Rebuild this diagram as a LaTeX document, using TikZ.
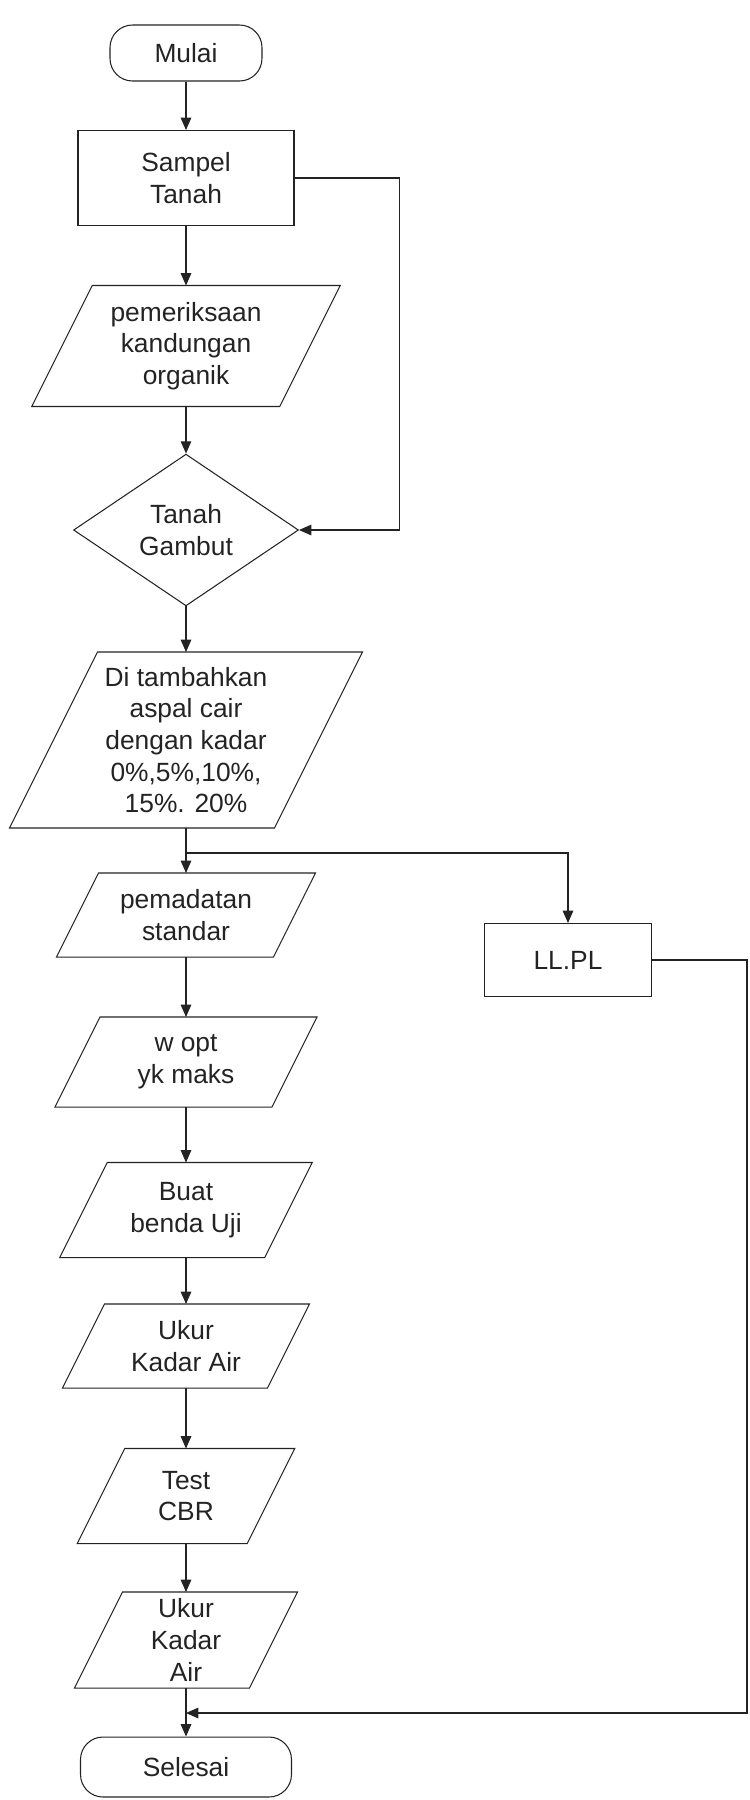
\documentclass[tikz,border=0pt]{standalone}
\usepackage{fontspec}
\setmainfont{Liberation Sans}
\usetikzlibrary{shapes.geometric,arrows.meta,calc}
\definecolor{tinta}{RGB}{35,35,35}

\begin{document}
\begin{tikzpicture}[x=0.02cm,y=-0.02cm,line width=0.6pt,draw=tinta,
  every node/.style={font=\fontsize{15}{18}\selectfont,align=center,inner sep=1pt,text=tinta},
  terminal/.style={draw,rectangle,rounded corners=0.45cm},
  proses/.style={draw,rectangle},
  io/.style={rectangle},
  putusan/.style={draw,diamond},
  panah/.style={-{Triangle[width=6pt,length=7pt]}}]
  \useasboundingbox (0,0) rectangle (750,1800);
  % kolom utama
  \node[terminal,minimum width=3.04cm,minimum height=1.12cm] (mulai) at (186,53) {Mulai};
  \node[proses,minimum width=4.32cm,minimum height=1.9cm] (sampel) at (186,178) {Sampel\\Tanah};
  \node[io,minimum width=4.94cm,minimum height=2.4cm] (prk) at (186,346) {pemeriksaan\\kandungan\\organik};
  \node[putusan,minimum width=4.5cm,minimum height=2.5cm] (gambut) at (186,530) {Tanah\\Gambut};
  \node[io,minimum width=5.28cm,minimum height=3.5cm] (tmb) at (186,740) {Di tambahkan\\aspal cair\\dengan kadar\\0\%,5\%,10\%,\\15\%. 20\%};
  \coordinate (cabang) at (186,853);
  \node[io,minimum width=4.32cm,minimum height=1.66cm] (pmd) at (186,915) {pemadatan\\standar};
  \node[io,minimum width=4.32cm,minimum height=1.78cm] (wopt) at (186,1062) {w opt\\yk maks};
  \node[io,minimum width=4.08cm,minimum height=1.88cm] (buat) at (186,1210) {Buat\\benda Uji};
  \node[io,minimum width=4.08cm,minimum height=1.66cm] (ukur1) at (186,1346) {Ukur\\Kadar Air};
  \node[io,minimum width=3.38cm,minimum height=1.88cm] (cbr) at (186,1496) {Test\\CBR};
  \node[io,minimum width=3.48cm,minimum height=1.9cm] (ukur2) at (186,1640) {Ukur\\Kadar\\Air};
  \coordinate (gabung) at (186,1713);
  \node[terminal,minimum width=4.22cm,minimum height=1.2cm] (selesai) at (186,1767) {Selesai};
  % kolom kanan
  \node[proses,minimum width=3.34cm,minimum height=1.46cm] (llpl) at (568,960) {LL.PL};
  % jajaran genjang input/output
  \foreach \n in {prk,tmb,pmd,wopt,buat,ukur1,cbr,ukur2}
    \draw ($(\n.north west)!0.25!90:(\n.south west)$) -- ($(\n.north east)!0.25!90:(\n.south east)$)
      -- ($(\n.south east)!0.25!90:(\n.north east)$) -- ($(\n.south west)!0.25!90:(\n.north west)$) -- cycle;
  % panah
  \draw[panah] (mulai) -- (sampel);
  \draw[panah] (sampel) -- (prk);
  \draw[panah] (prk) -- (gambut);
  \draw[panah] (gambut) -- (tmb);
  \draw (tmb.south) -- (cabang);
  \draw[panah] (cabang) -- (pmd);
  \draw[panah] (cabang) -| (llpl);
  \draw[panah] (pmd) -- (wopt);
  \draw[panah] (wopt) -- (buat);
  \draw[panah] (buat) -- (ukur1);
  \draw[panah] (ukur1) -- (cbr);
  \draw[panah] (cbr) -- (ukur2);
  \draw (ukur2.south) -- (gabung);
  \draw[panah] (gabung) -- (selesai);
  \draw[panah] (sampel.east) -- ++(105,0) |- (gambut.east);
  \draw[panah] (llpl.east) -- ++(95,0) |- (gabung);
\end{tikzpicture}
\end{document}
